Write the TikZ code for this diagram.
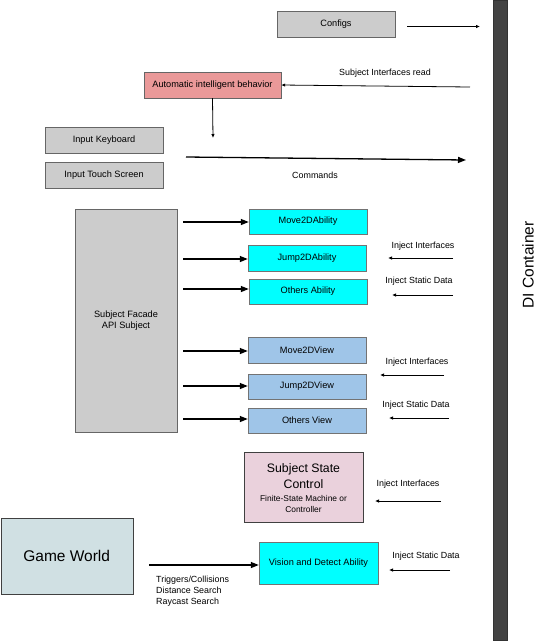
\documentclass[tikz,border=0pt]{standalone}
\usepackage{fontspec}
\setmainfont{Liberation Sans}
\usetikzlibrary{arrows.meta}
\definecolor{boxgray}{HTML}{CCCCCC}
\definecolor{aired}{HTML}{EA9999}
\definecolor{abil}{HTML}{00FFFF}
\definecolor{viewb}{HTML}{9FC5E8}
\definecolor{statep}{HTML}{EAD1DC}
\definecolor{worldb}{HTML}{D0E0E3}
\definecolor{barc}{HTML}{434343}
\def\bw{118pt}
\def\bh{26pt}
\tikzstyle{g}=[rectangle,draw=black!60,fill=boxgray,minimum width=\bw,minimum height=\bh,inner sep=1pt]
\tikzstyle{ai}=[g,fill=aired,minimum width=137pt]
\tikzstyle{ab}=[rectangle,draw=black!55,fill=abil,minimum width=\bw,minimum height=25pt,inner sep=1pt]
\tikzstyle{vw}=[ab,fill=viewb,minimum height=26pt]
\tikzstyle{lbl}=[inner sep=0pt,font=\fontsize{8.9}{10.5}\selectfont]
\tikzstyle{tarr}=[-{Latex[length=4pt,width=3.5pt]},draw,line width=0.8pt]
\tikzstyle{barr}=[-{Triangle[length=8pt,width=6pt]},draw,line width=1.3pt]

\begin{document}
\begin{tikzpicture}[x=1pt,y=-1pt,font=\fontsize{9.2}{11}\selectfont]
			\useasboundingbox (0,0) rectangle (546,641);
			% container bar
			\node[rectangle,draw=black!80,fill=barc,minimum width=14pt,minimum height=640pt,inner sep=0pt](di) at (500,320.5){};
			\node[rotate=90,font=\fontsize{15.5}{18}\selectfont](dit) at (528,265){DI Container};
			% top
			\node[g](cfg) at (336,24.5){Configs};
			\node[ai](aib) at (212.5,85){Automatic intelligent behavior};
			\node[g](kb) at (104,140){Input Keyboard};
			\node[g](touch) at (104,175){Input Touch Screen};
			\coordinate(c1) at (407,26.5);
			\coordinate(c2) at (480,26.5);
			\coordinate(s1) at (470,87);
			\coordinate(a1) at (213,138);
			\coordinate(m1) at (186,157);
			\coordinate(m2) at (466,160);
			\draw[tarr](c1)--(c2);
			\draw[tarr](s1)--(aib.east);
			\draw[tarr](aib.south)--(a1);
			\draw[barr](m1)--(m2);
			\node[lbl](sir) at (385,73){Subject Interfaces read};
			\node[lbl](cmd) at (315,175){Commands};
			% subject
			\node[g,minimum width=102pt,minimum height=223pt,align=center](fac) at (126,320.5){Subject Facade\\API Subject};
			\node[ab](mv) at (308,221.5){Move2DAbility};
			\node[ab,minimum height=26pt](jp) at (307,258){Jump2DAbility};
			\node[ab](oa) at (308,291.5){Others Ability};
			\node[vw](mvv) at (307,350){Move2DView};
			\node[vw,minimum height=25pt](jpv) at (307,386.5){Jump2DView};
			\node[vw,minimum height=25pt](ov) at (307,420.5){Others View};
			\foreach \n/\y in {mv/222,jp/259,oa/289,mvv/351,jpv/386,ov/419}{
				\coordinate(f\n) at (183,\y);
				\draw[barr](f\n)--(\n.west|-f\n);
			}
			% inject
			\foreach \i/\xa/\xb/\y in {1/453/388/258,2/453/392/295,3/444/380/375,4/449/389/418,5/441/375/501,6/450/389/570}{
				\coordinate(i\i a) at (\xa,\y);
				\coordinate(i\i b) at (\xb,\y);
				\draw[tarr](i\i a)--(i\i b);
			}
			\node[lbl](ii1) at (423,246){Inject Interfaces};
			\node[lbl](is1) at (419,281){Inject Static Data};
			\node[lbl](ii2) at (417,362){Inject Interfaces};
			\node[lbl](is2) at (416,405){Inject Static Data};
			\node[lbl](ii3) at (408,484){Inject Interfaces};
			\node[lbl](is3) at (426,556){Inject Static Data};
			% bottom
			\node[rectangle,draw=black!75,fill=statep,minimum width=119pt,minimum height=70pt,inner sep=0pt](ssc) at (303.5,487){};
			\node[align=center,inner sep=0pt,font=\fontsize{12.3}{16}\selectfont](sst) at (303.5,476){Subject State\\Control};
			\node[align=center,inner sep=0pt,font=\fontsize{8.4}{11.5}\selectfont](ssd) at (303.5,504){Finite-State Machine or\\Controller};
			\node[rectangle,draw=black!75,fill=worldb,minimum width=132pt,minimum height=76pt,font=\fontsize{15.5}{18}\selectfont](gw) at (66.7,556){Game World};
			\node[ab,minimum width=119pt,minimum height=42pt](vis) at (318.5,563){Vision and Detect Ability};
			\coordinate(w1) at (149,565);
			\draw[barr](w1)--(vis.west|-w1);
			\node[lbl,anchor=west,align=left,font=\fontsize{8.9}{11}\selectfont](trg) at (156,591){Triggers/Collisions\\Distance Search\\Raycast Search};
\end{tikzpicture}
\end{document}
